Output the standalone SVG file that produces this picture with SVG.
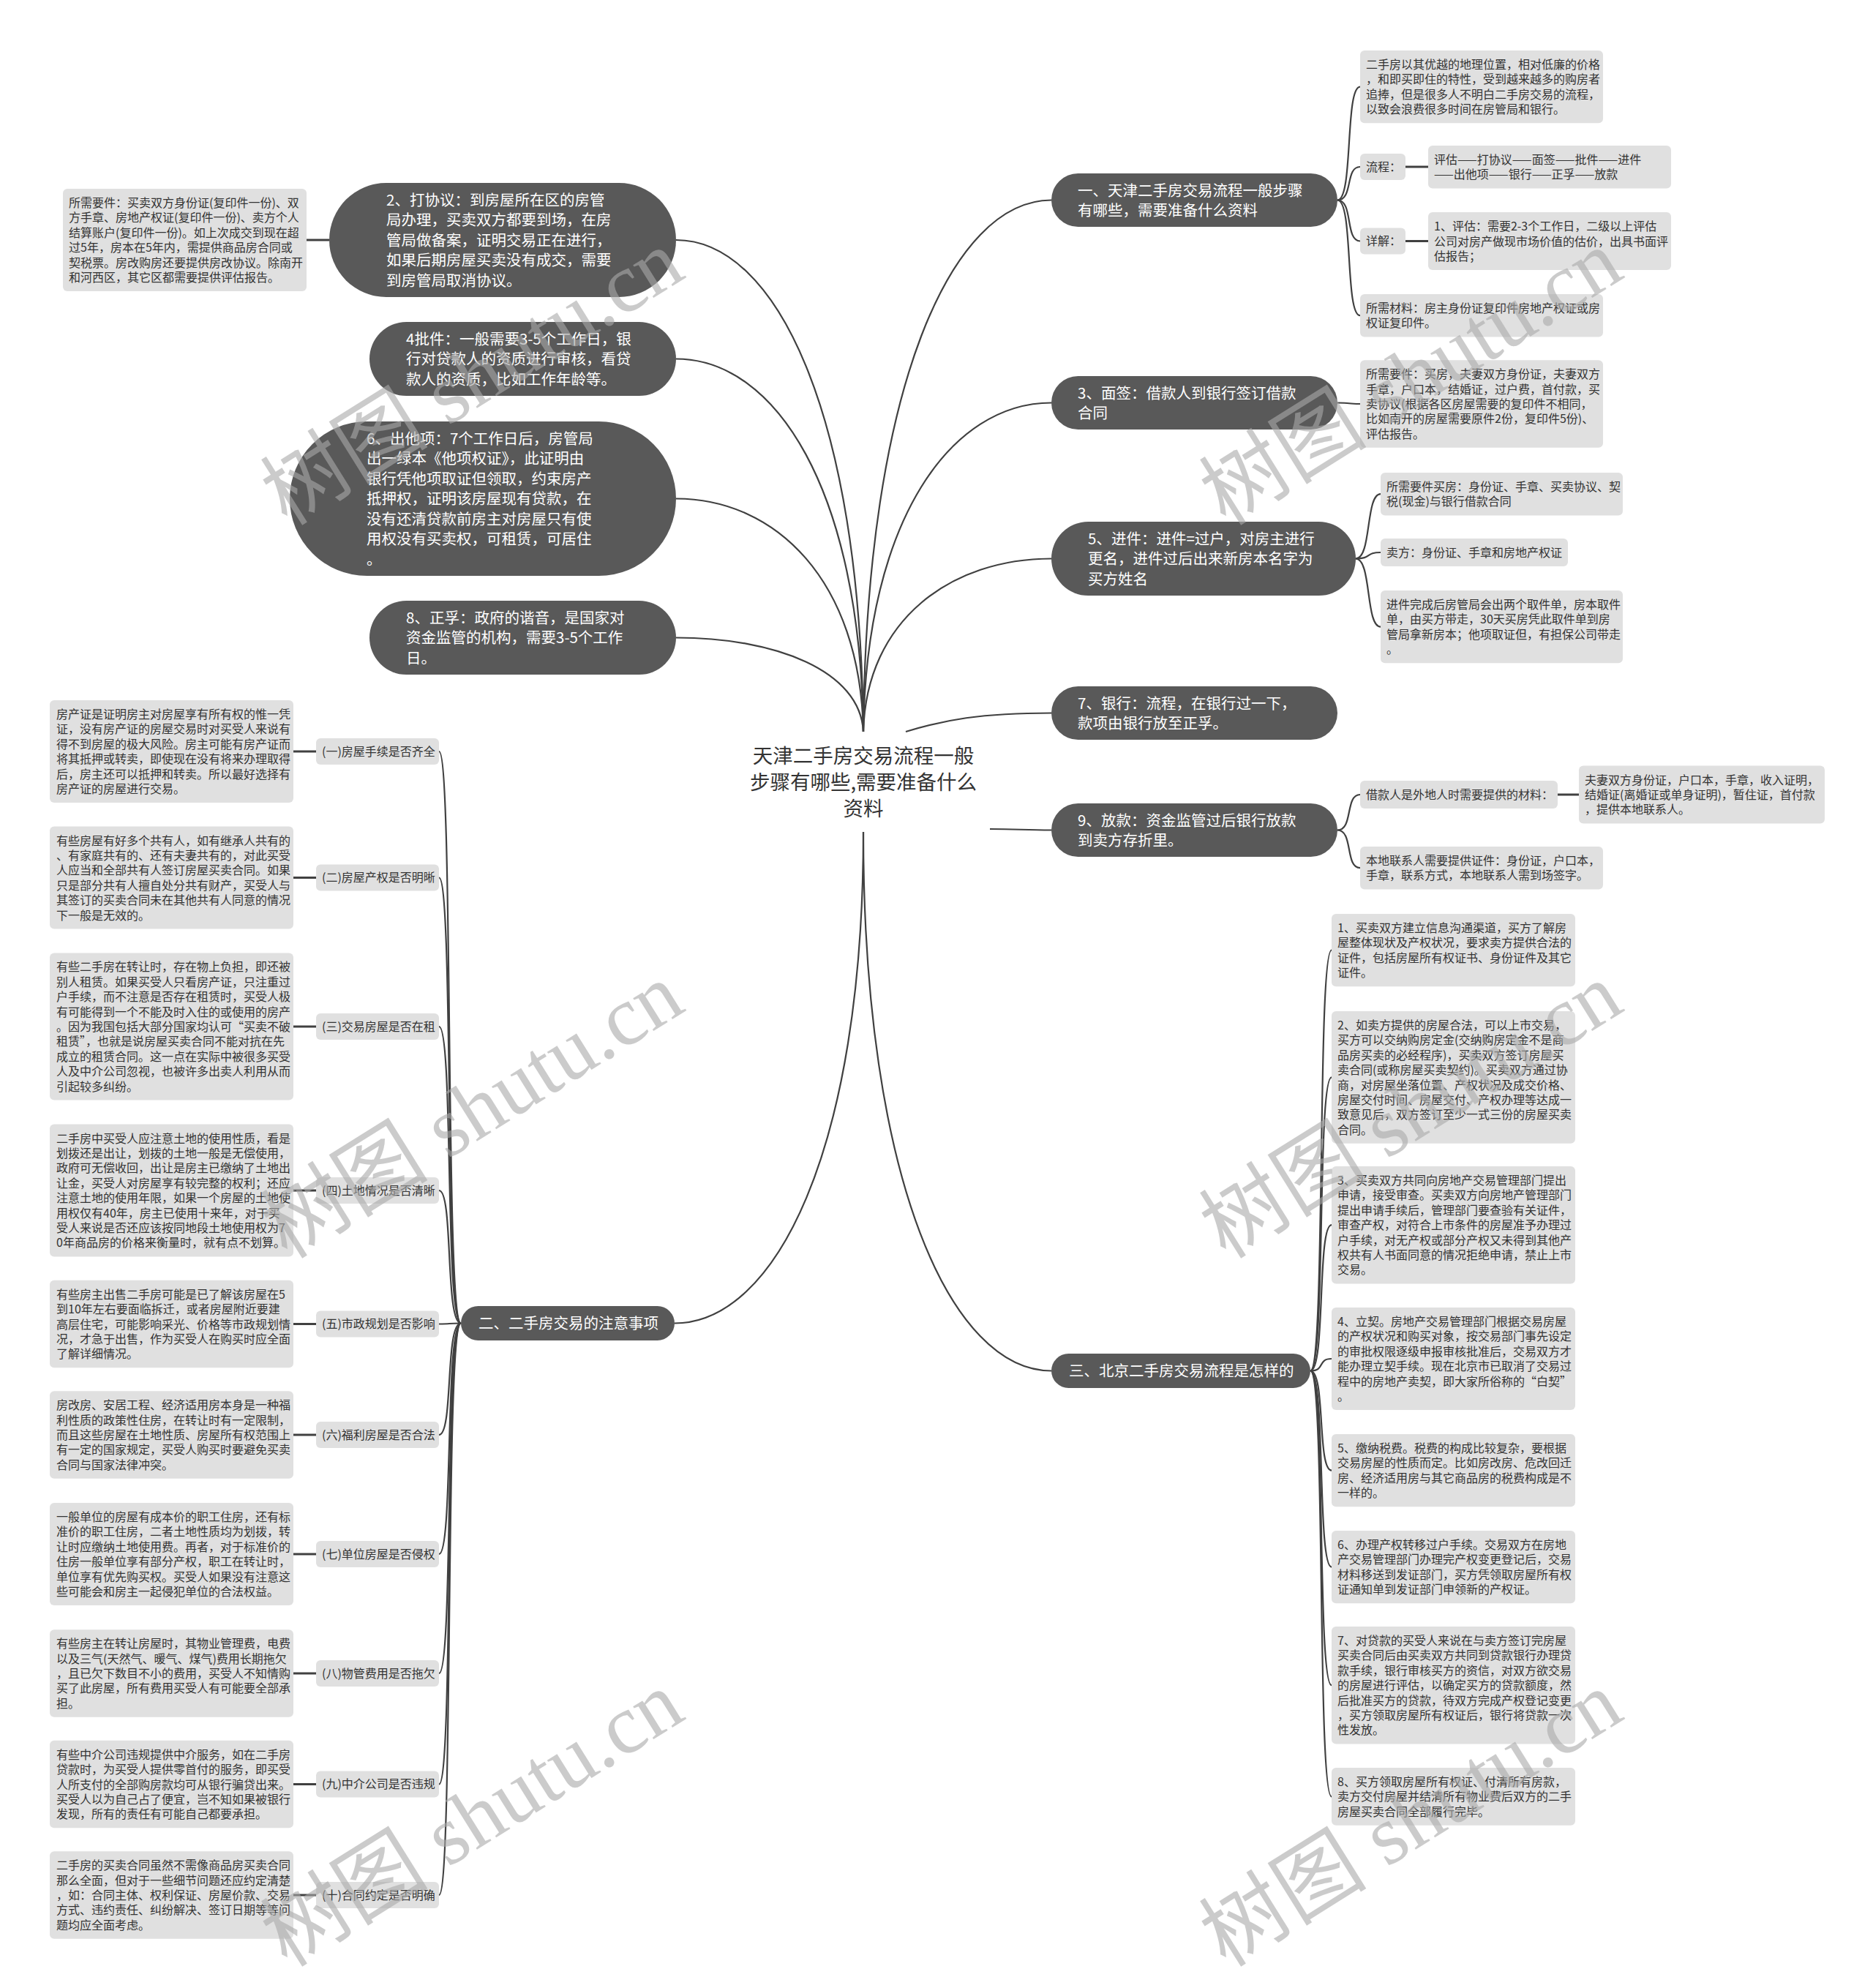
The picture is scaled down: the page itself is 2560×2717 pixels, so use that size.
<svg xmlns="http://www.w3.org/2000/svg" width="2560" height="2717" viewBox="0 0 2560 2717">
<style>
text { font-family: "Noto Sans CJK SC", "Noto Sans", sans-serif; }
.pill { fill: #595959; }
.pt { fill: #ffffff; font-size: 20.5px; }
.box { fill: #e0e0e0; }
.bt { fill: #333333; font-size: 16px; }
.root { fill: #333333; font-size: 27.5px; }
.c { fill: none; stroke: #404040; stroke-width: 2.2; }
.s { fill: none; stroke: #404040; stroke-width: 3; }
.wm { fill: #aaaaaa; opacity: 0.6; font-family: "Liberation Serif", "Noto Sans CJK SC", serif; font-size: 115px; }
</style>
<rect width="2560" height="2717" fill="#ffffff"/>

<g id="connectors">
  <path class="c" d="M1180,1000 C1176,563 1060,328 924,328"/>
  <path class="c" d="M1180,1000 C1176,669 1060,490.5 924,490.5"/>
  <path class="c" d="M1180,1000 C1176,793 1060,681.5 924,681.5"/>
  <path class="c" d="M1180,1000 C1176,916.5 1060,871.5 924,871.5"/>
  <path class="c" d="M1180,1000 C1184,528 1301,273.5 1437,273.5"/>
  <path class="c" d="M1180,1000 C1184,708 1301,550.5 1437,550.5"/>
  <path class="c" d="M1180,1000 C1184,846 1301,763.5 1437,763.5"/>
  <path class="c" d="M1238,1000 C1290,984 1340,974.5 1437,974.5"/>
  <path class="c" d="M1353,1133 C1390,1133 1400,1134.5 1437,1134.5"/>
  <path class="c" d="M1180,1137 C1180,1574 1059,1808.5 922,1808.5"/>
  <path class="c" d="M1180,1137 C1180,1616 1301,1873.5 1437,1873.5"/>
  <path class="c" d="M1828,273.5 C1850,273.5 1838,118.6 1859,118.6"/>
  <path class="c" d="M1828,273.5 C1850,273.5 1838,228 1859,228"/>
  <path class="c" d="M1828,273.5 C1850,273.5 1838,329.5 1859,329.5"/>
  <path class="c" d="M1828,273.5 C1850,273.5 1838,431.2 1859,431.2"/>
  <path class="s" d="M1921,228 L1952,228"/>
  <path class="s" d="M1921,329.5 L1952,329.5"/>
  <path class="c" d="M1828,550.5 C1850,550.5 1838,552 1859,552"/>
  <path class="c" d="M1853,763.5 C1875,763.5 1866,675.2 1887,675.2"/>
  <path class="c" d="M1853,763.5 C1875,763.5 1866,755 1887,755"/>
  <path class="c" d="M1853,763.5 C1875,763.5 1866,856.6 1887,856.6"/>
  <path class="c" d="M1828,1134.5 C1850,1134.5 1838,1086 1859,1086"/>
  <path class="c" d="M1828,1134.5 C1850,1134.5 1838,1186.2 1859,1186.2"/>
  <path class="s" d="M2129,1086 L2158,1086"/>
  <path class="c" d="M1791,1873.5 C1812,1873.5 1800,1298.6 1820,1298.6"/>
  <path class="c" d="M1791,1873.5 C1812,1873.5 1800,1472.4 1820,1472.4"/>
  <path class="c" d="M1791,1873.5 C1812,1873.5 1800,1674.2 1820,1674.2"/>
  <path class="c" d="M1791,1873.5 C1812,1873.5 1800,1857 1820,1857"/>
  <path class="c" d="M1791,1873.5 C1812,1873.5 1800,2009.6 1820,2009.6"/>
  <path class="c" d="M1791,1873.5 C1812,1873.5 1800,2141.6 1820,2141.6"/>
  <path class="c" d="M1791,1873.5 C1812,1873.5 1800,2303.2 1820,2303.2"/>
  <path class="c" d="M1791,1873.5 C1812,1873.5 1800,2455.4 1820,2455.4"/>
  <path class="c" d="M630,1808.5 C608,1808.5 620,1027 600,1027"/>
  <path class="c" d="M630,1808.5 C608,1808.5 620,1199.5 600,1199.5"/>
  <path class="c" d="M630,1808.5 C608,1808.5 620,1403 600,1403"/>
  <path class="c" d="M630,1808.5 C608,1808.5 620,1627 600,1627"/>
  <path class="c" d="M630,1808.5 C608,1808.5 620,1809.5 600,1809.5"/>
  <path class="c" d="M630,1808.5 C608,1808.5 620,1961 600,1961"/>
  <path class="c" d="M630,1808.5 C608,1808.5 620,2124 600,2124"/>
  <path class="c" d="M630,1808.5 C608,1808.5 620,2287 600,2287"/>
  <path class="c" d="M630,1808.5 C608,1808.5 620,2438.5 600,2438.5"/>
  <path class="c" d="M630,1808.5 C608,1808.5 620,2590 600,2590"/>
  <path class="s" d="M401,1027 L432,1027"/>
  <path class="s" d="M401,1199.5 L432,1199.5"/>
  <path class="s" d="M401,1403 L432,1403"/>
  <path class="s" d="M401,1627 L432,1627"/>
  <path class="s" d="M401,1809.5 L432,1809.5"/>
  <path class="s" d="M401,1961 L432,1961"/>
  <path class="s" d="M401,2124 L432,2124"/>
  <path class="s" d="M401,2287 L432,2287"/>
  <path class="s" d="M401,2438.5 L432,2438.5"/>
  <path class="s" d="M401,2590 L432,2590"/>
  <path class="s" d="M419,328 L450,328"/>
</g>

<g id="root">
  <text class="root" text-anchor="middle" x="1180" y="1043"><tspan x="1180">天津二手房交易流程一般</tspan><tspan x="1180" dy="36">步骤有哪些,需要准备什么</tspan><tspan x="1180" dy="36">资料</tspan></text>
</g>

<g id="note-n2">
  <rect class="box" x="86" y="258" width="333" height="140" rx="6"/>
  <text class="bt" x="94" y="283"><tspan x="94">所需要件：买卖双方身份证(复印件一份)、双</tspan><tspan x="94" dy="20.4">方手章、房地产权证(复印件一份)、卖方个人</tspan><tspan x="94" dy="20.4">结算账户(复印件一份)。如上次成交到现在超</tspan><tspan x="94" dy="20.4">过5年，房本在5年内，需提供商品房合同或</tspan><tspan x="94" dy="20.4">契税票。房改购房还要提供房改协议。除南开</tspan><tspan x="94" dy="20.4">和河西区，其它区都需要提供评估报告。</tspan></text>
</g>

<g id="n2">
  <rect class="pill" x="450" y="250" width="474" height="156" rx="78"/>
  <text class="pt" x="528" y="280.5"><tspan x="528">2、打协议：到房屋所在区的房管</tspan><tspan x="528" dy="27.5">局办理，买卖双方都要到场，在房</tspan><tspan x="528" dy="27.5">管局做备案，证明交易正在进行，</tspan><tspan x="528" dy="27.5">如果后期房屋买卖没有成交，需要</tspan><tspan x="528" dy="27.5">到房管局取消协议。</tspan></text>
</g>
<g id="n4">
  <rect class="pill" x="505" y="440" width="419" height="101" rx="50.5"/>
  <text class="pt" x="555" y="470.5"><tspan x="555">4批件：一般需要3-5个工作日，银</tspan><tspan x="555" dy="27.5">行对贷款人的资质进行审核，看贷</tspan><tspan x="555" dy="27.5">款人的资质，比如工作年龄等。</tspan></text>
</g>
<g id="n6">
  <rect class="pill" x="396" y="576" width="528" height="211" rx="105.5"/>
  <text class="pt" x="501" y="606.5"><tspan x="501">6、出他项：7个工作日后，房管局</tspan><tspan x="501" dy="27.5">出一绿本《他项权证》，此证明由</tspan><tspan x="501" dy="27.5">银行凭他项取证但领取，约束房产</tspan><tspan x="501" dy="27.5">抵押权，证明该房屋现有贷款，在</tspan><tspan x="501" dy="27.5">没有还清贷款前房主对房屋只有使</tspan><tspan x="501" dy="27.5">用权没有买卖权，可租赁，可居住</tspan><tspan x="501" dy="27.5">。</tspan></text>
</g>
<g id="n8">
  <rect class="pill" x="505" y="821" width="419" height="101" rx="50.5"/>
  <text class="pt" x="555" y="851.5"><tspan x="555">8、正孚：政府的谐音，是国家对</tspan><tspan x="555" dy="27.5">资金监管的机构，需要3-5个工作</tspan><tspan x="555" dy="27.5">日。</tspan></text>
</g>

<g id="n1">
  <rect class="pill" x="1437" y="237" width="391" height="73" rx="36.5"/>
  <text class="pt" x="1473" y="267.5"><tspan x="1473">一、天津二手房交易流程一般步骤</tspan><tspan x="1473" dy="27.5">有哪些，需要准备什么资料</tspan></text>
</g>
<g id="n1-intro">
  <rect class="box" x="1859" y="69" width="332" height="99.2" rx="6"/>
  <text class="bt" x="1867" y="94"><tspan x="1867">二手房以其优越的地理位置，相对低廉的价格</tspan><tspan x="1867" dy="20.4">，和即买即住的特性，受到越来越多的购房者</tspan><tspan x="1867" dy="20.4">追捧，但是很多人不明白二手房交易的流程，</tspan><tspan x="1867" dy="20.4">以致会浪费很多时间在房管局和银行。</tspan></text>
</g>
<g id="n1-liucheng">
  <rect class="box" x="1859" y="210" width="62" height="36" rx="6"/>
  <text class="bt" x="1867" y="233.8">流程：</text>
</g>
<g id="n1-liucheng-v">
  <rect class="box" x="1952" y="199" width="332" height="58.4" rx="6"/>
  <text class="bt" x="1960" y="224"><tspan x="1960">评估——打协议——面签——批件——进件</tspan><tspan x="1960" dy="20.4">——出他项——银行——正孚——放款</tspan></text>
</g>
<g id="n1-xiangjie">
  <rect class="box" x="1859" y="311.5" width="62" height="36" rx="6"/>
  <text class="bt" x="1867" y="335.3">详解：</text>
</g>
<g id="n1-xiangjie-v">
  <rect class="box" x="1952" y="290.1" width="332" height="78.8" rx="6"/>
  <text class="bt" x="1960" y="315.1"><tspan x="1960">1、评估：需要2-3个工作日，二级以上评估</tspan><tspan x="1960" dy="20.4">公司对房产做现市场价值的估价，出具书面评</tspan><tspan x="1960" dy="20.4">估报告；</tspan></text>
</g>
<g id="n1-cailiao">
  <rect class="box" x="1859" y="402" width="332" height="58.4" rx="6"/>
  <text class="bt" x="1867" y="427"><tspan x="1867">所需材料：房主身份证复印件房地产权证或房</tspan><tspan x="1867" dy="20.4">权证复印件。</tspan></text>
</g>

<g id="n3">
  <rect class="pill" x="1437" y="514" width="391" height="73" rx="36.5"/>
  <text class="pt" x="1473" y="544.5"><tspan x="1473">3、面签：借款人到银行签订借款</tspan><tspan x="1473" dy="27.5">合同</tspan></text>
</g>
<g id="n3-c1">
  <rect class="box" x="1859" y="492.2" width="332" height="119.6" rx="6"/>
  <text class="bt" x="1867" y="517.2"><tspan x="1867">所需要件：买房，夫妻双方身份证，夫妻双方</tspan><tspan x="1867" dy="20.4">手章，户口本，结婚证，过户费，首付款，买</tspan><tspan x="1867" dy="20.4">卖协议(根据各区房屋需要的复印件不相同，</tspan><tspan x="1867" dy="20.4">比如南开的房屋需要原件2份，复印件5份)、</tspan><tspan x="1867" dy="20.4">评估报告。</tspan></text>
</g>

<g id="n5">
  <rect class="pill" x="1437" y="713" width="416" height="101" rx="50.5"/>
  <text class="pt" x="1487" y="743.5"><tspan x="1487">5、进件：进件=过户，对房主进行</tspan><tspan x="1487" dy="27.5">更名，进件过后出来新房本名字为</tspan><tspan x="1487" dy="27.5">买方姓名</tspan></text>
</g>
<g id="n5-c1">
  <rect class="box" x="1887" y="646" width="331" height="58.4" rx="6"/>
  <text class="bt" x="1895" y="671"><tspan x="1895">所需要件买房：身份证、手章、买卖协议、契</tspan><tspan x="1895" dy="20.4">税(现金)与银行借款合同</tspan></text>
</g>
<g id="n5-c2">
  <rect class="box" x="1887" y="736" width="256" height="38" rx="6"/>
  <text class="bt" x="1895" y="761">卖方：身份证、手章和房地产权证</text>
</g>
<g id="n5-c3">
  <rect class="box" x="1887" y="807" width="331" height="99.2" rx="6"/>
  <text class="bt" x="1895" y="832"><tspan x="1895">进件完成后房管局会出两个取件单，房本取件</tspan><tspan x="1895" dy="20.4">单，由买方带走，30天买房凭此取件单到房</tspan><tspan x="1895" dy="20.4">管局拿新房本；他项取证但，有担保公司带走</tspan><tspan x="1895" dy="20.4">。</tspan></text>
</g>

<g id="n7">
  <rect class="pill" x="1437" y="938" width="391" height="73" rx="36.5"/>
  <text class="pt" x="1473" y="968.5"><tspan x="1473">7、银行：流程，在银行过一下，</tspan><tspan x="1473" dy="27.5">款项由银行放至正孚。</tspan></text>
</g>

<g id="n9">
  <rect class="pill" x="1437" y="1098" width="391" height="73" rx="36.5"/>
  <text class="pt" x="1473" y="1128.5"><tspan x="1473">9、放款：资金监管过后银行放款</tspan><tspan x="1473" dy="27.5">到卖方存折里。</tspan></text>
</g>
<g id="n9-c1">
  <rect class="box" x="1859" y="1067" width="270" height="38" rx="6"/>
  <text class="bt" x="1867" y="1092">借款人是外地人时需要提供的材料：</text>
</g>
<g id="n9-c1-v">
  <rect class="box" x="2158" y="1046.6" width="336" height="78.8" rx="6"/>
  <text class="bt" x="2166" y="1071.6"><tspan x="2166">夫妻双方身份证，户口本，手章，收入证明，</tspan><tspan x="2166" dy="20.4">结婚证(离婚证或单身证明)，暂住证，首付款</tspan><tspan x="2166" dy="20.4">，提供本地联系人。</tspan></text>
</g>
<g id="n9-c2">
  <rect class="box" x="1859" y="1157" width="332" height="58.4" rx="6"/>
  <text class="bt" x="1867" y="1182"><tspan x="1867">本地联系人需要提供证件：身份证，户口本，</tspan><tspan x="1867" dy="20.4">手章，联系方式，本地联系人需到场签字。</tspan></text>
</g>

<g id="n-san">
  <rect class="pill" x="1437" y="1850" width="354" height="47" rx="23.5"/>
  <text class="pt" x="1461" y="1881">三、北京二手房交易流程是怎样的</text>
</g>
<g id="san-1">
  <rect class="box" x="1820" y="1249" width="333" height="99.2" rx="6"/>
  <text class="bt" x="1828" y="1274"><tspan x="1828">1、买卖双方建立信息沟通渠道，买方了解房</tspan><tspan x="1828" dy="20.4">屋整体现状及产权状况，要求卖方提供合法的</tspan><tspan x="1828" dy="20.4">证件，包括房屋所有权证书、身份证件及其它</tspan><tspan x="1828" dy="20.4">证件。</tspan></text>
</g>
<g id="san-2">
  <rect class="box" x="1820" y="1382" width="333" height="180.8" rx="6"/>
  <text class="bt" x="1828" y="1407"><tspan x="1828">2、如卖方提供的房屋合法，可以上市交易，</tspan><tspan x="1828" dy="20.4">买方可以交纳购房定金(交纳购房定金不是商</tspan><tspan x="1828" dy="20.4">品房买卖的必经程序)，买卖双方签订房屋买</tspan><tspan x="1828" dy="20.4">卖合同(或称房屋买卖契约)。买卖双方通过协</tspan><tspan x="1828" dy="20.4">商，对房屋坐落位置、产权状况及成交价格、</tspan><tspan x="1828" dy="20.4">房屋交付时间、房屋交付、产权办理等达成一</tspan><tspan x="1828" dy="20.4">致意见后，双方签订至少一式三份的房屋买卖</tspan><tspan x="1828" dy="20.4">合同。</tspan></text>
</g>
<g id="san-3">
  <rect class="box" x="1820" y="1594" width="333" height="160.4" rx="6"/>
  <text class="bt" x="1828" y="1619"><tspan x="1828">3、买卖双方共同向房地产交易管理部门提出</tspan><tspan x="1828" dy="20.4">申请，接受审查。买卖双方向房地产管理部门</tspan><tspan x="1828" dy="20.4">提出申请手续后，管理部门要查验有关证件，</tspan><tspan x="1828" dy="20.4">审查产权，对符合上市条件的房屋准予办理过</tspan><tspan x="1828" dy="20.4">户手续，对无产权或部分产权又未得到其他产</tspan><tspan x="1828" dy="20.4">权共有人书面同意的情况拒绝申请，禁止上市</tspan><tspan x="1828" dy="20.4">交易。</tspan></text>
</g>
<g id="san-4">
  <rect class="box" x="1820" y="1787" width="333" height="140" rx="6"/>
  <text class="bt" x="1828" y="1812"><tspan x="1828">4、立契。房地产交易管理部门根据交易房屋</tspan><tspan x="1828" dy="20.4">的产权状况和购买对象，按交易部门事先设定</tspan><tspan x="1828" dy="20.4">的审批权限逐级申报审核批准后，交易双方才</tspan><tspan x="1828" dy="20.4">能办理立契手续。现在北京市已取消了交易过</tspan><tspan x="1828" dy="20.4">程中的房地产卖契，即大家所俗称的“白契”</tspan><tspan x="1828" dy="20.4">。</tspan></text>
</g>
<g id="san-5">
  <rect class="box" x="1820" y="1960" width="333" height="99.2" rx="6"/>
  <text class="bt" x="1828" y="1985"><tspan x="1828">5、缴纳税费。税费的构成比较复杂，要根据</tspan><tspan x="1828" dy="20.4">交易房屋的性质而定。比如房改房、危改回迁</tspan><tspan x="1828" dy="20.4">房、经济适用房与其它商品房的税费构成是不</tspan><tspan x="1828" dy="20.4">一样的。</tspan></text>
</g>
<g id="san-6">
  <rect class="box" x="1820" y="2092" width="333" height="99.2" rx="6"/>
  <text class="bt" x="1828" y="2117"><tspan x="1828">6、办理产权转移过户手续。交易双方在房地</tspan><tspan x="1828" dy="20.4">产交易管理部门办理完产权变更登记后，交易</tspan><tspan x="1828" dy="20.4">材料移送到发证部门，买方凭领取房屋所有权</tspan><tspan x="1828" dy="20.4">证通知单到发证部门申领新的产权证。</tspan></text>
</g>
<g id="san-7">
  <rect class="box" x="1820" y="2223" width="333" height="160.4" rx="6"/>
  <text class="bt" x="1828" y="2248"><tspan x="1828">7、对贷款的买受人来说在与卖方签订完房屋</tspan><tspan x="1828" dy="20.4">买卖合同后由买卖双方共同到贷款银行办理贷</tspan><tspan x="1828" dy="20.4">款手续，银行审核买方的资信，对双方欲交易</tspan><tspan x="1828" dy="20.4">的房屋进行评估，以确定买方的贷款额度，然</tspan><tspan x="1828" dy="20.4">后批准买方的贷款，待双方完成产权登记变更</tspan><tspan x="1828" dy="20.4">，买方领取房屋所有权证后，银行将贷款一次</tspan><tspan x="1828" dy="20.4">性发放。</tspan></text>
</g>
<g id="san-8">
  <rect class="box" x="1820" y="2416" width="333" height="78.8" rx="6"/>
  <text class="bt" x="1828" y="2441"><tspan x="1828">8、买方领取房屋所有权证、付清所有房款，</tspan><tspan x="1828" dy="20.4">卖方交付房屋并结清所有物业费后双方的二手</tspan><tspan x="1828" dy="20.4">房屋买卖合同全部履行完毕。</tspan></text>
</g>

<g id="n-er">
  <rect class="pill" x="630" y="1785" width="292" height="47" rx="23.5"/>
  <text class="pt" x="654" y="1816">二、二手房交易的注意事项</text>
</g>

<g id="er-1">
  <rect class="box" x="432" y="1009" width="168" height="36" rx="6"/>
  <text class="bt" x="440" y="1032.8">(一)房屋手续是否齐全</text>
</g>
<g id="er-1-note">
  <rect class="box" x="68" y="957" width="333" height="140" rx="6"/>
  <text class="bt" x="77" y="982"><tspan x="77">房产证是证明房主对房屋享有所有权的惟一凭</tspan><tspan x="77" dy="20.4">证，没有房产证的房屋交易时对买受人来说有</tspan><tspan x="77" dy="20.4">得不到房屋的极大风险。房主可能有房产证而</tspan><tspan x="77" dy="20.4">将其抵押或转卖，即使现在没有将来办理取得</tspan><tspan x="77" dy="20.4">后，房主还可以抵押和转卖。所以最好选择有</tspan><tspan x="77" dy="20.4">房产证的房屋进行交易。</tspan></text>
</g>
<g id="er-2">
  <rect class="box" x="432" y="1181.5" width="168" height="36" rx="6"/>
  <text class="bt" x="440" y="1205.3">(二)房屋产权是否明晰</text>
</g>
<g id="er-2-note">
  <rect class="box" x="68" y="1129.5" width="333" height="140" rx="6"/>
  <text class="bt" x="77" y="1154.5"><tspan x="77">有些房屋有好多个共有人，如有继承人共有的</tspan><tspan x="77" dy="20.4">、有家庭共有的、还有夫妻共有的，对此买受</tspan><tspan x="77" dy="20.4">人应当和全部共有人签订房屋买卖合同。如果</tspan><tspan x="77" dy="20.4">只是部分共有人擅自处分共有财产，买受人与</tspan><tspan x="77" dy="20.4">其签订的买卖合同未在其他共有人同意的情况</tspan><tspan x="77" dy="20.4">下一般是无效的。</tspan></text>
</g>
<g id="er-3">
  <rect class="box" x="432" y="1385" width="168" height="36" rx="6"/>
  <text class="bt" x="440" y="1408.8">(三)交易房屋是否在租</text>
</g>
<g id="er-3-note">
  <rect class="box" x="68" y="1302.4" width="333" height="201.2" rx="6"/>
  <text class="bt" x="77" y="1327.4"><tspan x="77">有些二手房在转让时，存在物上负担，即还被</tspan><tspan x="77" dy="20.4">别人租赁。如果买受人只看房产证，只注重过</tspan><tspan x="77" dy="20.4">户手续，而不注意是否存在租赁时，买受人极</tspan><tspan x="77" dy="20.4">有可能得到一个不能及时入住的或使用的房产</tspan><tspan x="77" dy="20.4">。因为我国包括大部分国家均认可“买卖不破</tspan><tspan x="77" dy="20.4">租赁”，也就是说房屋买卖合同不能对抗在先</tspan><tspan x="77" dy="20.4">成立的租赁合同。这一点在实际中被很多买受</tspan><tspan x="77" dy="20.4">人及中介公司忽视，也被许多出卖人利用从而</tspan><tspan x="77" dy="20.4">引起较多纠纷。</tspan></text>
</g>
<g id="er-4">
  <rect class="box" x="432" y="1609" width="168" height="36" rx="6"/>
  <text class="bt" x="440" y="1632.8">(四)土地情况是否清晰</text>
</g>
<g id="er-4-note">
  <rect class="box" x="68" y="1536.6" width="333" height="180.8" rx="6"/>
  <text class="bt" x="77" y="1561.6"><tspan x="77">二手房中买受人应注意土地的使用性质，看是</tspan><tspan x="77" dy="20.4">划拨还是出让，划拨的土地一般是无偿使用，</tspan><tspan x="77" dy="20.4">政府可无偿收回，出让是房主已缴纳了土地出</tspan><tspan x="77" dy="20.4">让金，买受人对房屋享有较完整的权利；还应</tspan><tspan x="77" dy="20.4">注意土地的使用年限，如果一个房屋的土地使</tspan><tspan x="77" dy="20.4">用权仅有40年，房主已使用十来年，对于买</tspan><tspan x="77" dy="20.4">受人来说是否还应该按同地段土地使用权为7</tspan><tspan x="77" dy="20.4">0年商品房的价格来衡量时，就有点不划算。</tspan></text>
</g>
<g id="er-5">
  <rect class="box" x="432" y="1791.5" width="168" height="36" rx="6"/>
  <text class="bt" x="440" y="1815.3">(五)市政规划是否影响</text>
</g>
<g id="er-5-note">
  <rect class="box" x="68" y="1749.7" width="333" height="119.6" rx="6"/>
  <text class="bt" x="77" y="1774.7"><tspan x="77">有些房主出售二手房可能是已了解该房屋在5</tspan><tspan x="77" dy="20.4">到10年左右要面临拆迁，或者房屋附近要建</tspan><tspan x="77" dy="20.4">高层住宅，可能影响采光、价格等市政规划情</tspan><tspan x="77" dy="20.4">况，才急于出售，作为买受人在购买时应全面</tspan><tspan x="77" dy="20.4">了解详细情况。</tspan></text>
</g>
<g id="er-6">
  <rect class="box" x="432" y="1943" width="168" height="36" rx="6"/>
  <text class="bt" x="440" y="1966.8">(六)福利房屋是否合法</text>
</g>
<g id="er-6-note">
  <rect class="box" x="68" y="1901.2" width="333" height="119.6" rx="6"/>
  <text class="bt" x="77" y="1926.2"><tspan x="77">房改房、安居工程、经济适用房本身是一种福</tspan><tspan x="77" dy="20.4">利性质的政策性住房，在转让时有一定限制，</tspan><tspan x="77" dy="20.4">而且这些房屋在土地性质、房屋所有权范围上</tspan><tspan x="77" dy="20.4">有一定的国家规定，买受人购买时要避免买卖</tspan><tspan x="77" dy="20.4">合同与国家法律冲突。</tspan></text>
</g>
<g id="er-7">
  <rect class="box" x="432" y="2106" width="168" height="36" rx="6"/>
  <text class="bt" x="440" y="2129.8">(七)单位房屋是否侵权</text>
</g>
<g id="er-7-note">
  <rect class="box" x="68" y="2054" width="333" height="140" rx="6"/>
  <text class="bt" x="77" y="2079"><tspan x="77">一般单位的房屋有成本价的职工住房，还有标</tspan><tspan x="77" dy="20.4">准价的职工住房，二者土地性质均为划拨，转</tspan><tspan x="77" dy="20.4">让时应缴纳土地使用费。再者，对于标准价的</tspan><tspan x="77" dy="20.4">住房一般单位享有部分产权，职工在转让时，</tspan><tspan x="77" dy="20.4">单位享有优先购买权。买受人如果没有注意这</tspan><tspan x="77" dy="20.4">些可能会和房主一起侵犯单位的合法权益。</tspan></text>
</g>
<g id="er-8">
  <rect class="box" x="432" y="2269" width="168" height="36" rx="6"/>
  <text class="bt" x="440" y="2292.8">(八)物管费用是否拖欠</text>
</g>
<g id="er-8-note">
  <rect class="box" x="68" y="2227.2" width="333" height="119.6" rx="6"/>
  <text class="bt" x="77" y="2252.2"><tspan x="77">有些房主在转让房屋时，其物业管理费，电费</tspan><tspan x="77" dy="20.4">以及三气(天然气、暖气、煤气)费用长期拖欠</tspan><tspan x="77" dy="20.4">，且已欠下数目不小的费用，买受人不知情购</tspan><tspan x="77" dy="20.4">买了此房屋，所有费用买受人有可能要全部承</tspan><tspan x="77" dy="20.4">担。</tspan></text>
</g>
<g id="er-9">
  <rect class="box" x="432" y="2420.5" width="168" height="36" rx="6"/>
  <text class="bt" x="440" y="2444.3">(九)中介公司是否违规</text>
</g>
<g id="er-9-note">
  <rect class="box" x="68" y="2378.7" width="333" height="119.6" rx="6"/>
  <text class="bt" x="77" y="2403.7"><tspan x="77">有些中介公司违规提供中介服务，如在二手房</tspan><tspan x="77" dy="20.4">贷款时，为买受人提供零首付的服务，即买受</tspan><tspan x="77" dy="20.4">人所支付的全部购房款均可从银行骗贷出来。</tspan><tspan x="77" dy="20.4">买受人以为自己占了便宜，岂不知如果被银行</tspan><tspan x="77" dy="20.4">发现，所有的责任有可能自己都要承担。</tspan></text>
</g>
<g id="er-10">
  <rect class="box" x="432" y="2572" width="168" height="36" rx="6"/>
  <text class="bt" x="440" y="2595.8">(十)合同约定是否明确</text>
</g>
<g id="er-10-note">
  <rect class="box" x="68" y="2530.2" width="333" height="119.6" rx="6"/>
  <text class="bt" x="77" y="2555.2"><tspan x="77">二手房的买卖合同虽然不需像商品房买卖合同</tspan><tspan x="77" dy="20.4">那么全面，但对于一些细节问题还应约定清楚</tspan><tspan x="77" dy="20.4">，如：合同主体、权利保证、房屋价款、交易</tspan><tspan x="77" dy="20.4">方式、违约责任、纠纷解决、签订日期等等问</tspan><tspan x="77" dy="20.4">题均应全面考虑。</tspan></text>
</g>

<g id="watermarks">
  <text class="wm" text-anchor="middle" x="645" y="555" transform="rotate(-32 645 515)">树图 shutu.cn</text>
  <text class="wm" text-anchor="middle" x="1928" y="555" transform="rotate(-32 1928 515)">树图 shutu.cn</text>
  <text class="wm" text-anchor="middle" x="645" y="1557" transform="rotate(-32 645 1517)">树图 shutu.cn</text>
  <text class="wm" text-anchor="middle" x="1928" y="1557" transform="rotate(-32 1928 1517)">树图 shutu.cn</text>
  <text class="wm" text-anchor="middle" x="645" y="2525" transform="rotate(-32 645 2485)">树图 shutu.cn</text>
  <text class="wm" text-anchor="middle" x="1928" y="2525" transform="rotate(-32 1928 2485)">树图 shutu.cn</text>
</g>
</svg>
